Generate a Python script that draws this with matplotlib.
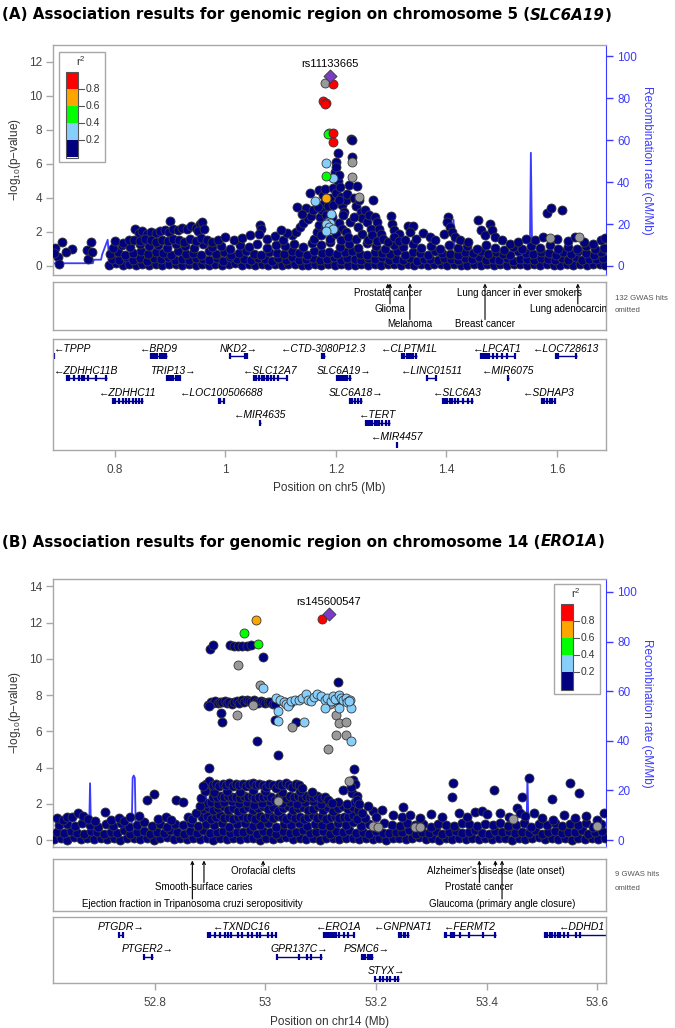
import matplotlib
matplotlib.use('Agg')
import matplotlib.pyplot as plt
from matplotlib.patches import Rectangle

plt.rcParams['font.family'] = ['Liberation Sans', 'DejaVu Sans']
plt.rcParams['mathtext.default'] = 'regular'

# ── Panel A data: chr5 (SLC6A19) ─────────────────────────────
A_LEAD = (1.189, 11.20)
A_LEAD_NAME = 'rs11133665'
A_RED = [(1.194, 10.73), (1.177, 9.73), (1.182, 9.60), (1.180, 9.50), (1.195, 7.80), (1.194, 7.31)]
A_ORANGE = [(1.182, 4.02)]
A_GREEN = [(1.188, 7.80), (1.186, 7.75), (1.182, 5.29)]
A_LBLUE = [(1.183, 6.08), (1.194, 5.20), (1.162, 3.82), (1.192, 3.06), (1.186, 2.60), (1.190, 2.55),
           (1.183, 2.45), (1.188, 2.30), (1.194, 2.20), (1.183, 2.08)]
A_GREY = [(1.180, 10.78), (1.229, 6.14), (1.230, 5.26), (1.242, 4.04), (1.641, 1.72), (1.588, 1.63)]
A_NAVY_LOW = [
    (0.790, .08), (0.802, .15), (0.814, .05), (0.826, .12), (0.838, .03), (0.850, .10), (0.862, .06), (0.874, .14),
    (0.886, .04), (0.898, .09), (0.910, .12), (0.922, .05), (0.934, .10), (0.946, .03), (0.958, .13), (0.970, .07),
    (0.982, .11), (0.994, .04), (1.006, .09), (1.018, .15), (1.030, .06), (1.042, .10), (1.054, .03), (1.066, .12),
    (1.078, .07), (1.090, .14), (1.102, .05), (1.114, .09), (1.126, .11), (1.138, .04), (1.150, .08), (1.162, .13),
    (1.174, .06), (1.186, .10), (1.198, .05), (1.210, .12), (1.222, .08), (1.234, .03), (1.246, .11), (1.258, .06),
    (1.270, .14), (1.282, .04), (1.294, .09), (1.306, .12), (1.318, .05), (1.330, .10), (1.342, .07), (1.354, .13),
    (1.366, .04), (1.378, .09), (1.390, .11), (1.402, .06), (1.414, .14), (1.426, .03), (1.438, .08), (1.450, .12),
    (1.462, .05), (1.474, .10), (1.486, .07), (1.498, .13), (1.510, .04), (1.522, .09), (1.534, .11), (1.546, .06),
    (1.558, .12), (1.570, .05), (1.582, .10), (1.594, .08), (1.606, .03), (1.618, .11), (1.630, .06), (1.642, .13),
    (1.654, .05), (1.666, .09), (1.678, .12), (1.688, .07),
    (0.795, .42), (0.807, .35), (0.821, .50), (0.833, .38), (0.846, .45), (0.858, .31), (0.871, .48), (0.884, .40),
    (0.896, .52), (0.909, .36), (0.921, .44), (0.934, .33), (0.946, .49), (0.959, .41), (0.971, .37), (0.984, .46),
    (0.996, .32), (1.009, .50), (1.021, .39), (1.034, .43), (1.046, .35), (1.059, .47), (1.071, .40), (1.084, .31),
    (1.096, .45), (1.109, .38), (1.121, .51), (1.134, .36), (1.146, .44), (1.159, .48), (1.171, .34), (1.184, .42),
    (1.196, .50), (1.209, .37), (1.221, .45), (1.234, .40), (1.246, .33), (1.259, .47), (1.271, .39), (1.284, .52),
    (1.296, .35), (1.309, .43), (1.321, .38), (1.334, .49), (1.346, .31), (1.359, .44), (1.371, .40), (1.384, .36),
    (1.396, .48), (1.409, .42), (1.421, .33), (1.434, .46), (1.446, .39), (1.459, .51), (1.471, .35), (1.484, .43),
    (1.496, .38), (1.509, .47), (1.521, .32), (1.534, .44), (1.546, .40), (1.559, .36), (1.571, .49), (1.584, .41),
    (1.596, .34), (1.609, .45), (1.621, .38), (1.634, .50), (1.646, .36), (1.659, .43), (1.671, .39), (1.684, .46),
    (0.792, .72), (0.806, .85), (0.819, .66), (0.833, .78), (0.847, .90), (0.860, .68), (0.874, .81), (0.888, .74),
    (0.901, .63), (0.915, .87), (0.929, .70), (0.942, .79), (0.956, .65), (0.970, .88), (0.983, .73), (0.997, .82),
    (1.011, .67), (1.024, .76), (1.038, .89), (1.052, .71), (1.065, .64), (1.079, .84), (1.093, .75), (1.106, .69),
    (1.120, .86), (1.134, .78), (1.147, .62), (1.161, .91), (1.175, .74), (1.188, .83), (1.202, .68), (1.216, .80),
    (1.229, .88), (1.243, .72), (1.257, .65), (1.270, .85), (1.284, .77), (1.298, .70), (1.311, .89), (1.325, .63),
    (1.339, .81), (1.352, .74), (1.366, .67), (1.380, .86), (1.393, .79), (1.407, .71), (1.421, .64), (1.434, .83),
    (1.448, .76), (1.462, .90), (1.475, .68), (1.489, .80), (1.503, .73), (1.516, .65), (1.530, .87), (1.544, .75),
    (1.557, .69), (1.571, .84), (1.585, .78), (1.598, .66), (1.612, .82), (1.626, .71), (1.639, .88), (1.653, .74),
    (1.667, .63), (1.680, .80),
    (0.797, 1.05), (0.812, 1.22), (0.828, 1.10), (0.845, 1.30), (0.861, 1.15), (0.878, 1.25), (0.894, 1.08),
    (0.910, 1.32), (0.927, 1.18), (0.943, 1.04), (0.960, 1.28), (0.976, 1.12), (0.993, 1.20), (1.009, 1.02),
    (1.026, 1.26), (1.042, 1.14), (1.058, 1.31), (1.075, 1.06), (1.091, 1.23), (1.108, 1.16), (1.124, 1.29),
    (1.141, 1.09), (1.157, 1.35), (1.174, 1.21), (1.190, 1.40), (1.207, 1.12), (1.223, 1.27), (1.240, 1.05),
    (1.256, 1.33), (1.273, 1.18), (1.289, 1.02), (1.306, 1.24), (1.322, 1.11), (1.339, 1.30), (1.355, 1.07),
    (1.372, 1.19), (1.388, 0.98), (1.405, 1.26), (1.421, 1.03), (1.438, 1.15), (1.455, 0.99), (1.471, 1.22),
    (1.488, 1.06), (1.504, 0.97), (1.521, 1.10), (1.537, 1.01), (1.554, 1.18), (1.570, 1.04), (1.587, 1.25),
    (1.603, 0.98), (1.620, 1.12), (1.636, 1.02), (1.653, 1.16), (1.669, 0.99), (1.685, 1.08)]
A_NAVY_MID = [
    (0.692, 1.04), (0.704, 1.43), (0.722, 0.98), (0.697, 0.51), (0.699, 0.12), (0.712, 0.85), (0.690, 0.75),
    (0.750, 0.96), (0.757, 1.40), (0.752, 0.40), (0.759, 0.80),
    (0.800, 1.45), (0.815, 1.35), (0.825, 1.50),
    (0.836, 2.15), (0.843, 1.95), (0.850, 2.05), (0.858, 1.90), (0.866, 2.00), (0.874, 1.95), (0.882, 2.05),
    (0.890, 2.10), (0.900, 2.62), (0.898, 2.00), (0.906, 2.15), (0.914, 2.10), (0.922, 2.25), (0.930, 2.20),
    (0.938, 2.35), (0.946, 2.25), (0.954, 2.45), (0.957, 2.60), (0.950, 2.05), (0.962, 2.20),
    (0.835, 1.55), (0.845, 1.45), (0.855, 1.60), (0.865, 1.50), (0.875, 1.40), (0.886, 1.55), (0.896, 1.45),
    (0.906, 1.60), (0.916, 1.50), (0.926, 1.42), (0.936, 1.58), (0.946, 1.48), (0.956, 1.62), (0.966, 1.50),
    (0.976, 1.40), (0.986, 1.55),
    (1.000, 1.70), (1.015, 1.55), (1.030, 1.65), (1.045, 1.80), (1.063, 2.41), (1.065, 2.20), (1.060, 1.90),
    (1.075, 1.60), (1.090, 1.75), (1.105, 1.55), (1.120, 1.85), (1.128, 2.00), (1.129, 3.49), (1.135, 2.30),
    (1.141, 2.55), (1.146, 3.39), (1.150, 2.75), (1.155, 2.95), (1.138, 3.05), (1.153, 4.27), (1.158, 3.30),
    (1.112, 1.95), (1.100, 2.10),
    (1.300, 2.94), (1.302, 2.47), (1.305, 2.10), (1.315, 1.90), (1.331, 2.37), (1.339, 2.35), (1.334, 2.00),
    (1.345, 1.60), (1.358, 1.94), (1.370, 1.70), (1.380, 1.50), (1.395, 1.90), (1.403, 2.90), (1.401, 2.60),
    (1.406, 2.30), (1.410, 2.00), (1.415, 1.70), (1.425, 1.50), (1.440, 1.40), (1.457, 2.70), (1.462, 2.10),
    (1.470, 1.80), (1.479, 2.47), (1.482, 2.10), (1.488, 1.70), (1.500, 1.50), (1.515, 1.30), (1.530, 1.40),
    (1.545, 1.60), (1.560, 1.55), (1.575, 1.70), (1.582, 3.14), (1.589, 3.43), (1.610, 3.30), (1.600, 1.60),
    (1.620, 1.45), (1.633, 1.70), (1.650, 1.40), (1.665, 1.30), (1.680, 1.50), (1.687, 1.65)]
A_NAVY_PEAK = [
    (1.160, 1.60), (1.165, 2.00), (1.170, 2.40), (1.172, 2.90), (1.175, 3.30), (1.178, 3.70), (1.168, 3.45),
    (1.170, 4.47), (1.176, 4.20), (1.180, 4.50), (1.183, 3.00), (1.186, 3.50), (1.190, 4.00), (1.195, 4.60),
    (1.200, 4.30), (1.203, 5.00), (1.198, 5.50), (1.201, 6.10), (1.203, 6.67), (1.200, 5.84), (1.205, 5.35),
    (1.208, 4.66), (1.210, 4.08), (1.212, 3.60), (1.215, 3.20), (1.218, 3.88), (1.220, 4.24), (1.224, 4.75),
    (1.227, 7.47), (1.229, 7.40), (1.230, 6.39), (1.232, 4.00), (1.236, 3.50), (1.239, 4.70), (1.242, 3.90),
    (1.245, 3.20), (1.248, 2.80), (1.252, 3.30), (1.256, 2.60), (1.260, 3.00), (1.263, 2.20), (1.268, 3.88),
    (1.270, 2.90), (1.274, 2.60), (1.278, 2.20), (1.282, 1.90), (1.187, 2.70), (1.193, 2.90), (1.180, 2.20),
    (1.174, 1.80), (1.206, 2.50), (1.212, 2.20), (1.219, 2.00), (1.225, 2.60), (1.233, 2.90), (1.240, 2.30),
    (1.190, 1.60), (1.200, 1.90), (1.210, 1.50), (1.222, 1.70), (1.236, 1.60), (1.248, 1.90), (1.258, 1.50),
    (1.266, 1.80), (1.275, 1.45), (1.285, 1.60), (1.295, 1.40), (1.305, 1.70), (1.315, 1.45), (1.325, 1.55),
    (1.195, 3.60), (1.206, 3.90), (1.213, 3.00)]
A_RECOMB = [(0.688, 1.3), (0.760, 1.3), (0.762, 3.0), (0.775, 3.0), (0.777, 5.5), (0.787, 12.5), (0.790, 2.0),
            (0.845, 2.9), (0.870, 0.5), (0.950, 1.5), (1.000, 0.8), (1.100, 1.5), (1.150, 3.0), (1.200, 5.0),
            (1.250, 2.0), (1.300, 1.0), (1.410, 1.5), (1.413, 22.0), (1.416, 1.5), (1.500, 1.0), (1.551, 1.5),
            (1.553, 54.0), (1.555, 13.0), (1.558, 13.0), (1.560, 1.5), (1.620, 1.0), (1.680, 1.0), (1.682, 14.0),
            (1.689, 14.0)]
A_GWAS_POS = [1.294, 1.298, 1.334, 1.470, 1.533, 1.638]
A_GWAS_TRAIT = ['Prostate cancer', 'Glioma', 'Melanoma', 'Breast cancer', 'Lung cancer in ever smokers',
                'Lung adenocarcinoma']
A_GWAS_OMITTED = 132
A_GENE_NAME = ['TPPP', 'BRD9', 'NKD2', 'CTD-3080P12.3', 'CLPTM1L', 'LPCAT1', 'LOC728613',
               'ZDHHC11B', 'TRIP13', 'SLC12A7', 'SLC6A19', 'LINC01511', 'MIR6075',
               'ZDHHC11', 'LOC100506688', 'SLC6A18', 'SLC6A3', 'SDHAP3', 'MIR4635', 'TERT', 'MIR4457']
A_GENE_START = [0.680, 0.864, 1.008, 1.174, 1.319, 1.461, 1.598, 0.712, 0.893, 1.051, 1.201, 1.364, 1.511,
                0.796, 0.987, 1.225, 1.393, 1.572, 1.062, 1.253, 1.309]
A_GENE_END = [0.690, 0.894, 1.040, 1.180, 1.346, 1.525, 1.636, 0.785, 0.918, 1.112, 1.227, 1.382, 1.513,
              0.851, 0.998, 1.247, 1.448, 1.597, 1.064, 1.298, 1.311]
A_GENE_STRAND = [-1, -1, 1, -1, -1, -1, -1, -1, 1, -1, 1, -1, -1, -1, -1, 1, -1, -1, -1, -1, -1]
A_EXONS = [[0.689], [0.865, 0.869, 0.873, 0.877, 0.881, 0.885, 0.889, 0.893], [1.009, 1.036, 1.039],
           [1.175, 1.178], [1.320, 1.324, 1.328, 1.332, 1.336, 1.340, 1.345],
           [1.462, 1.466, 1.470, 1.474, 1.478, 1.485, 1.492, 1.500, 1.510, 1.524], [1.599, 1.602, 1.635],
           [0.713, 0.717, 0.726, 0.735, 0.740, 0.745, 0.752, 0.765, 0.784],
           [0.894, 0.898, 0.902, 0.906, 0.910, 0.914, 0.917],
           [1.052, 1.056, 1.060, 1.066, 1.070, 1.075, 1.078, 1.082, 1.088, 1.095, 1.111],
           [1.202, 1.206, 1.209, 1.213, 1.217, 1.221, 1.226], [1.365, 1.381], [1.512],
           [0.797, 0.801, 0.808, 0.815, 0.820, 0.826, 0.832, 0.838, 0.844, 0.850], [0.988, 0.991, 0.997],
           [1.226, 1.230, 1.235, 1.240, 1.246],
           [1.394, 1.398, 1.402, 1.406, 1.411, 1.416, 1.421, 1.430, 1.440, 1.447],
           [1.573, 1.577, 1.582, 1.587, 1.592, 1.596], [1.063],
           [1.254, 1.258, 1.262, 1.266, 1.270, 1.274, 1.279, 1.283, 1.290, 1.297], [1.310]]

# ── Panel B data: chr14 (ERO1A) ──────────────────────────────
B_LEAD = (53.115, 12.47)
B_LEAD_NAME = 'rs145600547'
B_RED = [(53.102, 12.22)]
B_ORANGE = [(52.983, 12.12)]
B_GREEN = [(52.961, 11.41), (52.987, 10.80)]
B_LBLUE = [(52.996, 8.37), (53.019, 7.84), (53.023, 7.10), (53.022, 6.59), (53.027, 7.70), (53.033, 7.60),
           (53.038, 7.50), (53.041, 7.38), (53.047, 7.66), (53.053, 7.70), (53.061, 7.74), (53.066, 7.85),
           (53.069, 6.52), (53.073, 8.06), (53.078, 7.70), (53.083, 7.66), (53.088, 7.90), (53.093, 8.06),
           (53.100, 7.95), (53.107, 7.75), (53.107, 7.30), (53.112, 7.85), (53.118, 7.65), (53.123, 7.93),
           (53.126, 7.80), (53.134, 8.02), (53.133, 7.30), (53.137, 7.85), (53.140, 7.71), (53.146, 7.85),
           (53.148, 7.60), (53.153, 7.71), (53.155, 7.30), (53.152, 7.66), (53.155, 5.46)]
B_GREY = [(52.951, 9.67), (52.990, 8.55), (52.948, 6.89), (52.977, 7.43), (53.049, 6.23), (53.114, 5.00),
          (53.127, 6.92), (53.133, 6.47), (53.127, 5.82), (53.146, 5.77), (53.152, 3.26), (53.145, 6.50),
          (53.116, 7.50), (53.022, 2.16), (53.194, 0.79), (53.203, 0.70), (53.270, 0.70), (53.280, 0.75),
          (53.447, 1.15), (53.600, 0.80)]
B_NAVY_LOW = [
    (52.618, .06), (52.630, .12), (52.642, .03), (52.654, .15), (52.666, .08), (52.678, .10), (52.690, .04),
    (52.702, .13), (52.714, .07), (52.726, .11), (52.738, .02), (52.750, .14), (52.762, .09), (52.774, .05),
    (52.786, .12), (52.798, .03), (52.810, .10), (52.822, .15), (52.834, .06), (52.846, .11), (52.858, .04),
    (52.870, .13), (52.882, .08), (52.894, .10), (52.906, .03), (52.918, .14), (52.930, .07), (52.942, .11),
    (52.954, .05), (52.966, .12), (52.978, .09), (52.990, .02), (53.002, .13), (53.014, .06), (53.026, .10),
    (53.038, .15), (53.050, .04), (53.062, .11), (53.074, .08), (53.086, .13), (53.098, .03), (53.110, .10),
    (53.122, .14), (53.134, .06), (53.146, .09), (53.158, .12), (53.170, .04), (53.182, .11), (53.194, .07),
    (53.206, .14), (53.218, .03), (53.230, .10), (53.242, .12), (53.254, .05), (53.266, .09), (53.278, .15),
    (53.290, .06), (53.302, .11), (53.314, .02), (53.326, .13), (53.338, .08), (53.350, .10), (53.362, .04),
    (53.374, .12), (53.386, .07), (53.398, .14), (53.410, .05), (53.422, .11), (53.434, .09), (53.446, .03),
    (53.458, .13), (53.470, .06), (53.482, .10), (53.494, .15), (53.506, .04), (53.518, .12), (53.530, .08),
    (53.542, .11), (53.554, .03), (53.566, .14), (53.578, .07), (53.590, .10), (53.602, .05), (53.614, .12),
    (52.624, .45), (52.636, .38), (52.648, .52), (52.660, .41), (52.672, .35), (52.684, .49), (52.696, .43),
    (52.708, .31), (52.720, .47), (52.732, .40), (52.744, .55), (52.756, .36), (52.768, .44), (52.780, .50),
    (52.792, .33), (52.804, .46), (52.816, .39), (52.828, .53), (52.840, .42), (52.852, .34), (52.864, .48),
    (52.876, .41), (52.888, .56), (52.900, .37), (52.912, .45), (52.924, .51), (52.936, .38), (52.948, .47),
    (52.960, .42), (52.972, .54), (52.984, .36), (52.996, .49), (53.008, .43), (53.020, .32), (53.032, .50),
    (53.044, .40), (53.056, .46), (53.068, .55), (53.080, .38), (53.092, .44), (53.104, .51), (53.116, .35),
    (53.128, .48), (53.140, .42), (53.152, .53), (53.164, .39), (53.176, .45), (53.188, .33), (53.200, .50),
    (53.212, .41), (53.224, .37), (53.236, .47), (53.248, .43), (53.260, .54), (53.272, .36), (53.284, .46),
    (53.296, .40), (53.308, .52), (53.320, .34), (53.332, .44), (53.344, .49), (53.356, .38), (53.368, .45),
    (53.380, .55), (53.392, .41), (53.404, .35), (53.416, .48), (53.428, .43), (53.440, .51), (53.452, .37),
    (53.464, .46), (53.476, .40), (53.488, .53), (53.500, .36), (53.512, .44), (53.524, .49), (53.536, .39),
    (53.548, .47), (53.560, .42), (53.572, .54), (53.584, .35), (53.596, .45), (53.608, .50),
    (52.627, .82), (52.641, .90), (52.655, .76), (52.669, .95), (52.683, .84), (52.697, .72), (52.711, .88),
    (52.725, .80), (52.739, .93), (52.753, .74), (52.767, .86), (52.781, .98), (52.795, .79), (52.809, .87),
    (52.823, .71), (52.837, .91), (52.851, .83), (52.865, .96), (52.879, .77), (52.893, .89), (52.907, .81),
    (52.921, .94), (52.935, .75), (52.949, .87), (52.963, .92), (52.977, .78), (52.991, .85), (53.005, .97),
    (53.019, .73), (53.033, .88), (53.047, .82), (53.061, .95), (53.075, .79), (53.089, .90), (53.103, .84),
    (53.117, .76), (53.131, .93), (53.145, .86), (53.159, .98), (53.173, .80), (53.187, .89), (53.201, .74),
    (53.215, .92), (53.229, .83), (53.243, .77), (53.257, .95), (53.271, .81), (53.285, .88), (53.299, .72),
    (53.313, .91), (53.327, .85), (53.341, .79), (53.355, .94), (53.369, .87), (53.383, .76), (53.397, .90),
    (53.411, .83), (53.425, .97), (53.439, .78), (53.453, .86), (53.467, .92), (53.481, .74), (53.495, .89),
    (53.509, .81), (53.523, .95), (53.537, .77), (53.551, .88), (53.565, .84), (53.579, .93), (53.593, .75),
    (53.607, .87)]
B_NAVY_CORE = [
    (52.886, 1.25), (52.894, 1.32), (52.902, 1.18), (52.910, 1.28), (52.918, 1.36), (52.926, 1.21),
    (52.934, 1.30), (52.942, 1.15), (52.950, 1.27), (52.958, 1.34), (52.966, 1.22), (52.974, 1.29),
    (52.982, 1.17), (52.990, 1.33), (52.998, 1.24), (53.006, 1.38), (53.014, 1.20), (53.022, 1.31),
    (53.030, 1.26), (53.038, 1.14), (53.046, 1.35), (53.054, 1.23), (53.062, 1.30), (53.070, 1.19),
    (53.078, 1.28), (53.086, 1.36), (53.094, 1.22), (53.102, 1.32), (53.110, 1.16), (53.118, 1.27),
    (53.126, 1.34), (53.134, 1.21), (53.142, 1.30), (53.150, 1.25), (53.158, 1.37), (53.166, 1.19),
    (52.888, 1.70), (52.897, 1.82), (52.906, 1.64), (52.915, 1.76), (52.924, 1.88), (52.933, 1.68),
    (52.942, 1.79), (52.951, 1.62), (52.960, 1.74), (52.969, 1.85), (52.978, 1.66), (52.987, 1.77),
    (52.996, 1.90), (53.005, 1.69), (53.014, 1.81), (53.023, 1.63), (53.032, 1.75), (53.041, 1.87),
    (53.050, 1.67), (53.059, 1.78), (53.068, 1.84), (53.077, 1.65), (53.086, 1.73), (53.095, 1.86),
    (53.104, 1.68), (53.113, 1.80), (53.122, 1.62), (53.131, 1.76), (53.140, 1.89), (53.149, 1.71),
    (53.158, 1.83), (53.167, 1.66),
    (52.892, 2.05), (52.902, 2.12), (52.914, 1.98), (52.926, 2.08), (52.940, 2.15), (52.952, 2.02),
    (52.966, 2.10), (52.980, 1.96), (52.994, 2.07), (53.008, 2.14), (53.030, 2.03), (53.044, 2.11),
    (53.058, 1.99), (53.072, 2.09), (53.086, 2.13), (53.100, 2.01), (53.116, 2.06), (53.132, 2.12),
    (53.148, 2.00), (53.162, 2.08),
    (52.905, 2.40), (52.912, 2.35), (52.919, 2.42), (52.926, 2.38), (52.933, 2.45), (52.940, 2.36),
    (52.947, 2.40), (52.954, 2.33), (52.961, 2.44), (52.968, 2.38), (52.975, 2.42), (52.982, 2.30),
    (52.989, 2.40), (52.996, 2.36), (53.003, 2.45), (53.010, 2.38), (53.017, 2.20), (53.024, 2.35),
    (53.031, 2.42), (53.038, 2.30), (53.045, 2.44), (53.052, 2.38), (53.059, 2.45), (53.066, 2.32),
    (53.073, 2.45), (53.080, 2.40), (53.087, 2.35), (53.094, 2.42), (53.101, 2.30), (53.108, 2.38),
    (53.114, 2.20), (53.120, 2.05),
    (52.895, 2.75), (52.908, 2.68), (52.930, 2.72), (52.955, 2.66), (52.978, 2.74), (53.000, 2.70),
    (53.030, 2.65), (53.062, 2.72), (53.085, 2.68), (53.140, 2.75), (53.157, 2.60), (53.165, 2.45),
    (52.893, 3.10), (52.899, 3.25), (52.905, 3.05), (52.911, 3.12), (52.917, 2.98), (52.923, 3.08),
    (52.929, 3.02), (52.935, 3.14), (52.941, 3.00), (52.947, 3.10), (52.953, 3.05), (52.959, 3.12),
    (52.965, 2.96), (52.971, 3.08), (52.977, 3.14), (52.983, 3.02), (52.989, 3.10), (52.995, 3.05),
    (53.001, 2.92), (53.007, 3.12), (53.013, 3.05), (53.019, 2.85), (53.025, 3.10), (53.031, 3.02),
    (53.037, 3.14), (53.043, 3.06), (53.049, 2.95), (53.055, 3.10), (53.061, 3.04), (53.067, 2.90),
    (53.161, 3.94), (53.158, 3.30), (53.163, 3.10), (53.155, 2.95), (53.166, 2.20)]
B_NAVY_HIGH = [
    (52.900, 10.55), (52.906, 10.77), (52.936, 10.77), (52.943, 10.70), (52.950, 10.70), (52.958, 10.72),
    (52.966, 10.72), (52.974, 10.77), (52.996, 10.09), (53.132, 8.72), (52.920, 7.00), (52.921, 6.51),
    (52.985, 5.46), (53.022, 4.69), (53.017, 6.65), (53.055, 6.52), (52.898, 4.00), (53.036, 7.62),
    (53.045, 7.55), (53.130, 7.70),
    (52.897, 7.45), (52.901, 7.62), (52.905, 7.58), (52.909, 7.66), (52.914, 7.55), (52.918, 7.63),
    (52.922, 7.60), (52.927, 7.68), (52.931, 7.57), (52.935, 7.64), (52.940, 7.52), (52.944, 7.60),
    (52.948, 7.66), (52.953, 7.58), (52.957, 7.70), (52.961, 7.62), (52.966, 7.75), (52.970, 7.66),
    (52.974, 7.60), (52.979, 7.70), (52.983, 7.63), (52.987, 7.58), (52.992, 7.66), (52.996, 7.61),
    (53.000, 7.56), (53.005, 7.64), (53.009, 7.60), (53.013, 7.52), (53.017, 7.48), (52.899, 7.40)]
B_NAVY_SIDE = [
    (52.624, 1.20), (52.634, 1.10), (52.641, 1.30), (52.650, 1.25), (52.662, 1.48), (52.671, 1.35),
    (52.680, 1.15), (52.692, 1.05), (52.710, 1.56), (52.720, 1.10), (52.735, 1.20), (52.745, 1.05),
    (52.755, 1.30), (52.772, 1.35), (52.786, 2.21), (52.798, 2.53), (52.805, 1.15), (52.820, 1.25),
    (52.830, 1.10), (52.839, 2.21), (52.851, 2.10), (52.860, 1.30), (52.868, 1.15), (52.875, 1.50),
    (52.881, 1.90), (52.884, 2.30), (52.890, 2.70), (52.888, 3.00),
    (53.339, 3.17), (53.338, 2.38), (53.414, 2.77), (53.465, 2.35), (53.477, 3.44), (53.519, 2.29),
    (53.550, 3.17), (53.568, 2.62), (53.249, 1.80), (53.248, 1.30), (53.194, 1.61), (53.200, 1.30),
    (53.211, 1.66), (53.230, 1.40), (53.262, 1.40), (53.280, 1.20), (53.300, 1.45), (53.320, 1.25),
    (53.350, 1.50), (53.365, 1.30), (53.380, 1.55), (53.392, 1.60), (53.400, 1.45), (53.425, 1.50),
    (53.440, 1.30), (53.455, 1.75), (53.460, 1.50), (53.470, 1.35), (53.485, 1.50), (53.500, 1.20),
    (53.520, 1.10), (53.540, 1.40), (53.560, 1.20), (53.580, 1.35), (53.600, 1.10), (53.612, 1.50),
    (53.180, 1.20), (53.175, 1.50), (53.185, 1.90), (53.170, 2.00)]
B_RECOMB = [(52.616, 0.5), (52.681, 0.5), (52.683, 22.9), (52.685, 0.5), (52.758, 0.5), (52.760, 25.0),
            (52.762, 26.0), (52.764, 25.0), (52.766, 0.5), (52.891, 0.5), (52.893, 19.0), (52.896, 2.0),
            (52.950, 0.5), (53.100, 1.0), (53.300, 0.8), (53.472, 0.8), (53.474, 25.8), (53.476, 0.8),
            (53.616, 0.8)]
B_GWAS_POS = [52.868, 52.889, 52.996, 53.387, 53.416, 53.428]
B_GWAS_TRAIT = ['Ejection fraction in Tripanosoma cruzi seropositivity', 'Smooth-surface caries',
                'Orofacial clefts', 'Prostate cancer', "Alzheimer's disease (late onset)",
                'Glaucoma (primary angle closure)']
B_GWAS_OMITTED = 9
B_GENE_NAME = ['PTGDR', 'TXNDC16', 'ERO1A', 'GNPNAT1', 'FERMT2', 'DDHD1', 'PTGER2', 'GPR137C', 'PSMC6', 'STYX']
B_GENE_START = [52.734, 52.896, 53.105, 53.241, 53.324, 53.504, 52.780, 53.020, 53.173, 53.197]
B_GENE_END = [52.743, 53.020, 53.161, 53.259, 53.417, 53.650, 52.796, 53.103, 53.194, 53.241]
B_GENE_STRAND = [1, -1, -1, -1, -1, -1, 1, 1, 1, 1]
B_EXONS = [[52.735, 52.742],
           [52.897, 52.900, 52.909, 52.918, 52.927, 52.932, 52.937, 52.950, 52.958, 52.968, 52.976, 52.984,
            52.990, 53.005, 53.012, 53.019],
           [53.106, 53.108, 53.111, 53.114, 53.117, 53.120, 53.124, 53.128, 53.134, 53.142, 53.150, 53.160],
           [53.242, 53.245, 53.250, 53.253, 53.258],
           [53.325, 53.327, 53.335, 53.338, 53.342, 53.352, 53.368, 53.393, 53.416],
           [53.505, 53.507, 53.510, 53.514, 53.519, 53.524, 53.529, 53.533, 53.540, 53.548, 53.561, 53.569],
           [52.781, 52.795], [53.021, 53.060, 53.075, 53.083, 53.101],
           [53.174, 53.177, 53.181, 53.185, 53.190, 53.193], [53.198, 53.208, 53.213, 53.220, 53.225, 53.234, 53.240]]

R2_LABELS = ['0.8', '0.6', '0.4', '0.2']

# ── Layout (pixel coordinates) ───────────────────────────────
A_GWAS_LEVEL = [0, 1, 2, 2, 0, 1]
A_GENE_ROW = [0, 0, 0, 0, 0, 0, 0, 1, 1, 1, 1, 1, 1, 2, 2, 2, 2, 2, 3, 3, 4]
B_GWAS_LEVEL = [2, 1, 0, 1, 0, 2]
B_GENE_ROW = [0, 0, 0, 0, 0, 0, 1, 1, 1, 2]

NAVY, LBLUE, GREEN, ORANGE, RED = '#000080', '#87CEFA', '#00FF00', '#FFA500', '#FF0000'
GREY_PT, LEAD = '#999999', '#7B3DC4'
BLUE = '#3B3BFF'
FRAME = '#A8A8A8'
TXT = '#444444'
GENE_C = '#000099'

W, H = 675, 1028
fig = plt.figure(figsize=(W / 100, H / 100), dpi=100)
renderer = fig.canvas.get_renderer()

ov = fig.add_axes([0, 0, 1, 1], zorder=20)
ov.set_xlim(0, W)
ov.set_ylim(H, 0)
ov.axis('off')


def box(x0, y0, x1, y1):
    return fig.add_axes([x0 / W, 1 - y1 / H, (x1 - x0) / W, (y1 - y0) / H])


def frame(ax, color=FRAME):
    for s in ax.spines.values():
        s.set_color(color)
        s.set_linewidth(1.0)


def xy(pts):
    return [p[0] for p in pts], [p[1] for p in pts]


def title(py, pieces):
    x = 2
    for txt, st in pieces:
        t = fig.text(x / W, 1 - py / H, txt, fontsize=10.9, fontweight='bold', style=st,
                     family='DejaVu Sans', va='center', ha='left')
        x += t.get_window_extent(renderer).width


def r2_legend(x0, y0):
    ov.add_patch(Rectangle((x0, y0), 46, 110, fc='white', ec=FRAME, lw=1))
    cx, cy = x0 + 6.5, y0 + 19.5
    for i, c in enumerate([RED, ORANGE, GREEN, LBLUE, NAVY]):
        ov.add_patch(Rectangle((cx, cy + i * 17.2), 12, 17.2, fc=c, ec='none'))
    ov.add_patch(Rectangle((cx, cy), 12, 86, fc='none', ec='#555555', lw=0.8))
    for i, lab in enumerate(R2_LABELS):
        yy = cy + 17.2 * (i + 1)
        ov.plot([cx + 12, cx + 18], [yy, yy], color='#555555', lw=0.8)
        ov.text(cx + 20, yy, lab, fontsize=7.5, va='center', ha='left', color='#333333')
    ov.text(x0 + 22, y0 + 9, 'r$^2$', fontsize=8, ha='center', va='center', color='#333333')


def panel(P):
    x0, x1 = 53, 606
    my0, my1 = P['main_y']
    ax = box(x0, my0, x1, my1)
    ax2 = ax.twinx()
    ax.set_zorder(ax2.get_zorder() + 1)
    ax.patch.set_visible(False)

    rx, ry = xy(P['recomb'])
    ax2.plot(rx, ry, color=BLUE, lw=1.3)
    ax2.set_ylim(P['rlim'])
    ax2.set_yticks(range(0, 101, 20))
    ax2.tick_params(axis='y', colors=BLUE, length=5, width=1, labelsize=8.5, pad=3)
    for k in ('left', 'top', 'bottom'):
        ax2.spines[k].set_visible(False)
    ax2.spines['right'].set_color(BLUE)

    for pts, col in [(P['navy'], NAVY), (P['grey'], GREY_PT), (P['lblue'], LBLUE),
                     (P['green'], GREEN), (P['orange'], ORANGE), (P['red'], RED)]:
        px, py = xy(pts)
        ax.scatter(px, py, s=42, c=col, edgecolors='#383838', linewidths=0.6, zorder=3)
    lx, ly = P['lead']
    ax.scatter([lx], [ly], s=44, marker='D', c=LEAD, edgecolors='#383838', linewidths=0.6, zorder=4)
    ax.annotate(P['lead_name'], (lx, ly), xytext=(0, 8.5), textcoords='offset points',
                ha='center', va='center', fontsize=8, zorder=5)

    ax.set_xlim(P['xlim'])
    ax.set_ylim(P['plim'])
    ax.set_xticks([])
    ax.set_yticks(P['yticks'])
    ax.tick_params(axis='y', color=FRAME, labelcolor=TXT, length=5, width=1, labelsize=8.5, pad=3)
    frame(ax)
    ax.spines['right'].set_visible(False)

    mid = (my0 + my1) / 2
    fig.text(15 / W, 1 - mid / H, '\u2212log$_{10}$(p\u2212value)', rotation=90, ha='center',
             va='center', fontsize=8.5, color='#333333')
    fig.text(647 / W, 1 - mid / H, 'Recombination rate (cM/Mb)', rotation=270, ha='center',
             va='center', fontsize=8.5, color=BLUE)

    # GWAS catalog track
    gy0, gy1 = P['gwas_y']
    gx = box(x0, gy0, x1, gy1)
    gx.set_xlim(P['xlim'])
    gx.set_ylim(gy1, gy0)
    gx.set_xticks([])
    gx.set_yticks([])
    frame(gx)
    for pos, name, lvl in zip(P['gwas_pos'], P['gwas_trait'], P['gwas_level']):
        ty = P['gwas_rows'][lvl]
        gx.text(pos, ty, name, ha='center', va='center', fontsize=7, clip_on=True)
        gx.annotate('', xy=(pos, gy0 + 1.5), xytext=(pos, ty - 5),
                    arrowprops=dict(arrowstyle='->', lw=0.8, color='black', shrinkA=0, shrinkB=0,
                                    mutation_scale=5))
    fig.text(615 / W, 1 - (gy0 + 16) / H, f"{P['omitted']} GWAS hits", fontsize=5.6, color='#555555',
             va='center')
    fig.text(615 / W, 1 - (gy0 + 29) / H, 'omitted', fontsize=5.6, color='#555555', va='center')

    # gene track
    ny0, ny1 = P['gene_y']
    nx = box(x0, ny0, x1, ny1)
    nx.set_xlim(P['xlim'])
    nx.set_ylim(ny1, ny0)
    nx.set_yticks([])
    frame(nx)
    nx.set_xticks(P['xticks'])
    nx.set_xticklabels(P['xticklabels'])
    nx.tick_params(axis='x', color=FRAME, labelcolor=TXT, length=5, width=1, labelsize=8.5, pad=5)
    ax_bb = nx.get_window_extent(renderer)
    for name, s, e, strand, row, ex in zip(P['gene_name'], P['gene_start'], P['gene_end'],
                                            P['gene_strand'], P['gene_row'], P['exons']):
        yb = ny0 + 17.5 + 22 * row
        nx.plot([s, e], [yb, yb], color=GENE_C, lw=1, solid_capstyle='butt')
        nx.plot(ex, [yb] * len(ex), '|', ms=4.5, mew=1.6, color=GENE_C)
        label = ('\u2190' + name) if strand < 0 else (name + '\u2192')
        t = nx.text((s + e) / 2, yb - 7.5, label, style='italic', fontsize=7.5, ha='center', va='center')
        bb = t.get_window_extent(renderer)
        inv = nx.transData.inverted()
        if bb.x0 < ax_bb.x0 + 1:
            shift = ax_bb.x0 + 1 - bb.x0
        elif bb.x1 > ax_bb.x1 - 1:
            shift = ax_bb.x1 - 1 - bb.x1
        else:
            shift = 0
        if shift:
            cx = (bb.x0 + bb.x1) / 2
            t.set_x(inv.transform((cx + shift, 0))[0])
    fig.text(329.5 / W, 1 - P['xlabel_y'] / H, P['xlabel'], ha='center', va='center', fontsize=8.5,
             color='#333333')


title(15, [('(A) Association results for genomic region on chromosome 5 (', 'normal'),
           ('SLC6A19', 'italic'), (')', 'normal')])
panel(dict(main_y=(45, 275), plim=(-0.53, 13.0), rlim=(-4.3, 105.4), yticks=range(0, 13, 2),
           xlim=(0.688, 1.689), recomb=A_RECOMB,
           navy=A_NAVY_LOW + A_NAVY_MID + A_NAVY_PEAK, grey=A_GREY, lblue=A_LBLUE, green=A_GREEN,
           orange=A_ORANGE, red=A_RED, lead=A_LEAD, lead_name=A_LEAD_NAME,
           gwas_y=(282, 330), gwas_rows=(293, 309, 324.5), gwas_pos=A_GWAS_POS, gwas_trait=A_GWAS_TRAIT,
           gwas_level=A_GWAS_LEVEL, omitted=A_GWAS_OMITTED,
           gene_y=(339, 450), gene_name=A_GENE_NAME, gene_start=A_GENE_START, gene_end=A_GENE_END,
           gene_strand=A_GENE_STRAND, gene_row=A_GENE_ROW, exons=A_EXONS,
           xticks=[0.8, 1.0, 1.2, 1.4, 1.6], xticklabels=['0.8', '1', '1.2', '1.4', '1.6'],
           xlabel='Position on chr5 (Mb)', xlabel_y=488))
r2_legend(59, 52)

title(542, [('(B) Association results for genomic region on chromosome 14 (', 'normal'),
            ('ERO1A', 'italic'), (')', 'normal')])
panel(dict(main_y=(579, 847), plim=(-0.38, 14.4), rlim=(-2.8, 105.2), yticks=range(0, 15, 2),
           xlim=(52.616, 53.616), recomb=B_RECOMB,
           navy=B_NAVY_LOW + B_NAVY_CORE + B_NAVY_SIDE + B_NAVY_HIGH, grey=B_GREY, lblue=B_LBLUE,
           green=B_GREEN, orange=B_ORANGE, red=B_RED, lead=B_LEAD, lead_name=B_LEAD_NAME,
           gwas_y=(859, 911), gwas_rows=(871, 887.5, 904), gwas_pos=B_GWAS_POS, gwas_trait=B_GWAS_TRAIT,
           gwas_level=B_GWAS_LEVEL, omitted=B_GWAS_OMITTED,
           gene_y=(917, 983), gene_name=B_GENE_NAME, gene_start=B_GENE_START, gene_end=B_GENE_END,
           gene_strand=B_GENE_STRAND, gene_row=B_GENE_ROW, exons=B_EXONS,
           xticks=[52.8, 53.0, 53.2, 53.4, 53.6], xticklabels=['52.8', '53', '53.2', '53.4', '53.6'],
           xlabel='Position on chr14 (Mb)', xlabel_y=1022))
r2_legend(554, 584)

fig.savefig('out.png', dpi=100)
